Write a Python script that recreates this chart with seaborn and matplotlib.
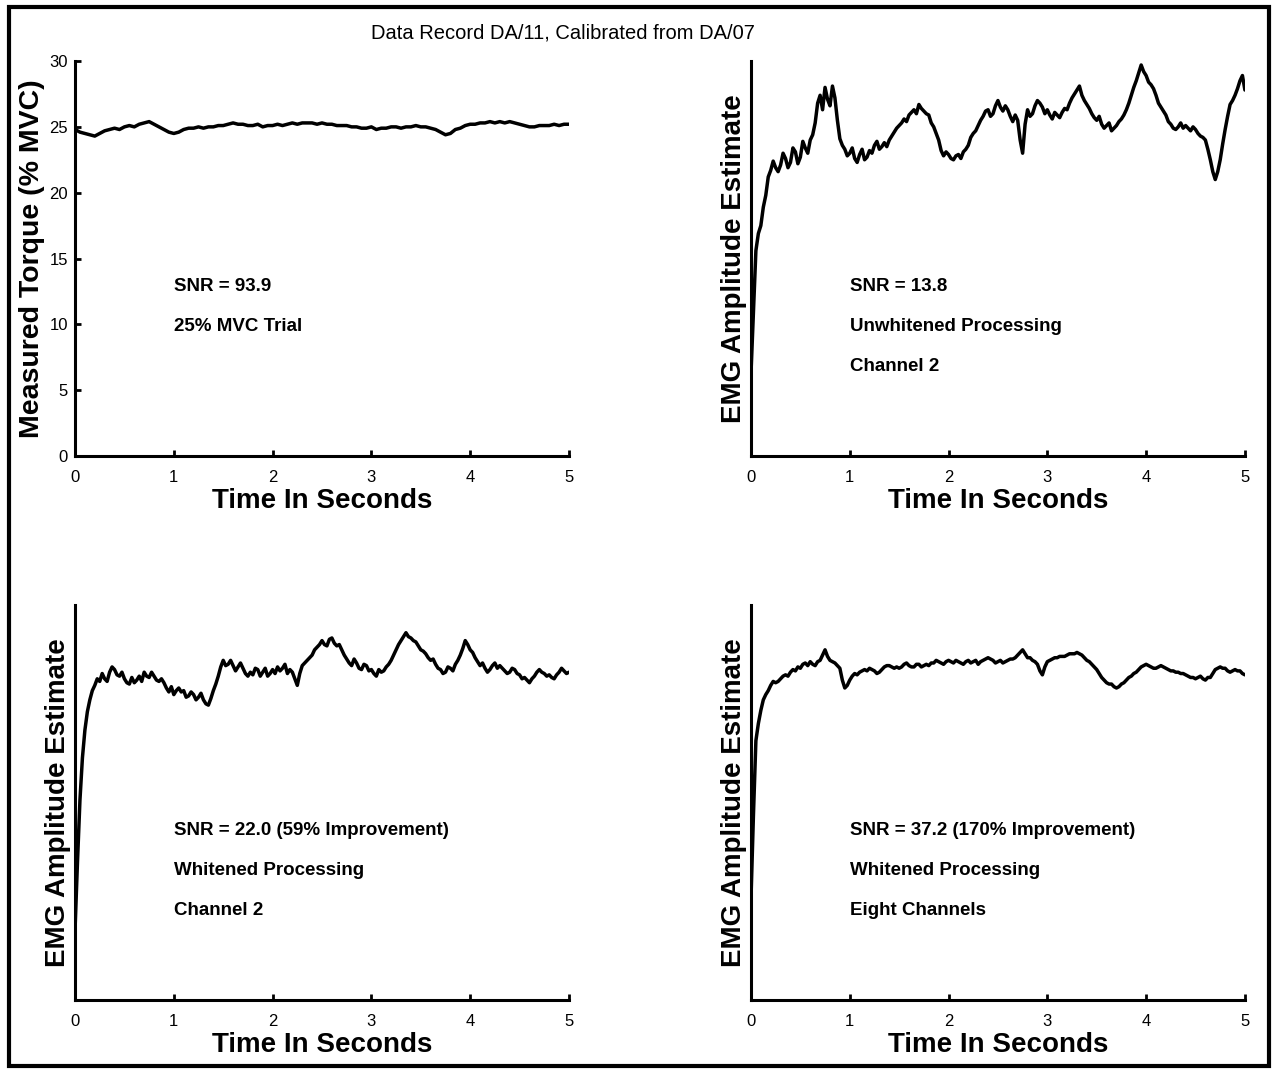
import numpy as np
import pandas as pd
import matplotlib
matplotlib.use("Agg")
import matplotlib.pyplot as plt
import seaborn as sns
from matplotlib.patches import Rectangle

# ---------------- data ----------------
torque = [24.8, 24.6, 24.5, 24.4, 24.3, 24.5, 24.7, 24.8, 24.9, 24.8,
          25.0, 25.1, 25.0, 25.2, 25.3, 25.4, 25.2, 25.0, 24.8, 24.6,
          24.5, 24.6, 24.8, 24.9, 24.9, 25.0, 24.9, 25.0, 25.0, 25.1,
          25.1, 25.2, 25.3, 25.2, 25.2, 25.1, 25.1, 25.2, 25.0, 25.1,
          25.1, 25.2, 25.1, 25.2, 25.3, 25.2, 25.3, 25.3, 25.3, 25.2,
          25.3, 25.2, 25.2, 25.1, 25.1, 25.1, 25.0, 25.0, 24.9, 24.9,
          25.0, 24.8, 24.9, 24.9, 25.0, 25.0, 24.9, 25.0, 25.0, 25.1,
          25.0, 25.0, 24.9, 24.8, 24.6, 24.4, 24.5, 24.8, 24.9, 25.1,
          25.2, 25.2, 25.3, 25.3, 25.4, 25.3, 25.4, 25.3, 25.4, 25.3,
          25.2, 25.1, 25.0, 25.0, 25.1, 25.1, 25.1, 25.2, 25.1, 25.2,
          25.2]

emg_unwhitened = [6.2, 11.0, 15.6, 16.9, 17.5, 18.9, 19.8, 21.2, 21.7, 22.4,
                  21.9, 21.6, 22.1, 23.0, 22.6, 21.9, 22.3, 23.4, 23.1, 22.2,
                  22.7, 23.9, 23.4, 23.0, 24.0, 24.4, 25.3, 26.8, 27.4, 26.3,
                  28.0, 27.1, 26.6, 28.1, 27.2, 25.5, 24.1, 23.6, 23.3, 22.8,
                  23.0, 23.4, 22.6, 22.3, 22.9, 23.3, 22.5, 22.7, 23.2, 23.0,
                  23.6, 23.9, 23.3, 23.5, 23.8, 23.5, 24.0, 24.3, 24.6, 24.9,
                  25.1, 25.3, 25.6, 25.4, 25.9, 26.1, 26.3, 26.0, 26.7, 26.4,
                  26.2, 26.0, 25.9, 25.3, 25.0, 24.5, 24.0, 23.2, 22.8, 23.1,
                  22.9, 22.6, 22.5, 22.8, 22.9, 22.6, 23.1, 23.3, 23.6, 24.2,
                  24.5, 24.7, 25.1, 25.5, 25.8, 26.2, 26.3, 25.8, 26.0, 26.6,
                  27.0, 26.5, 26.2, 26.6, 26.3, 25.8, 25.4, 25.9, 25.5, 24.0,
                  23.0, 25.2, 26.3, 25.8, 26.0, 26.6, 27.0, 26.8, 26.5, 26.0,
                  26.3, 25.9, 25.6, 26.1, 25.9, 25.7, 26.1, 26.4, 26.3, 26.8,
                  27.2, 27.5, 27.8, 28.1, 27.4, 27.0, 26.7, 26.4, 26.0, 25.7,
                  25.5, 25.8, 25.2, 24.9, 25.1, 25.3, 24.7, 24.9, 25.1, 25.4,
                  25.6, 25.9, 26.3, 26.8, 27.4, 28.0, 28.5, 29.1, 29.7, 29.2,
                  28.9, 28.4, 28.2, 27.9, 27.4, 26.8, 26.5, 26.2, 25.9, 25.4,
                  25.2, 24.9, 24.8, 25.0, 25.3, 24.9, 25.1, 24.9, 24.7, 25.0,
                  24.8, 24.5, 24.3, 24.2, 24.0, 23.3, 22.5, 21.6, 21.0, 21.6,
                  22.5, 23.7, 24.8, 25.8, 26.7, 27.0, 27.4, 27.9, 28.5, 28.9,
                  27.8]

emg_whitened_ch2 = [5.3, 10.5, 15.2, 18.4, 20.5, 21.9, 22.8, 23.5, 23.9, 24.4,
                    24.2, 24.8, 24.4, 24.2, 24.9, 25.3, 25.1, 24.7, 24.6, 24.9,
                    24.4, 24.1, 24.0, 24.5, 24.1, 24.3, 24.6, 24.2, 24.9, 24.6,
                    24.5, 24.9, 24.6, 24.3, 24.2, 24.4, 24.1, 23.7, 23.4, 23.8,
                    23.2, 23.5, 23.7, 23.4, 23.5, 23.0, 23.1, 23.4, 23.2, 22.8,
                    23.0, 23.3, 22.8, 22.5, 22.4, 22.9, 23.5, 24.0, 24.6, 25.3,
                    25.8, 25.4, 25.5, 25.8, 25.4, 25.0, 25.3, 25.6, 25.2, 24.8,
                    24.6, 24.9, 24.7, 25.2, 25.1, 24.6, 24.9, 25.2, 24.6, 24.8,
                    25.1, 24.8, 25.3, 25.0, 25.2, 25.5, 24.8, 25.1, 24.9, 24.4,
                    23.9, 24.8, 25.4, 25.6, 25.8, 26.0, 26.2, 26.6, 26.8, 27.0,
                    27.3, 27.0, 26.9, 27.4, 27.5, 27.1, 26.9, 27.0, 26.6, 26.2,
                    25.9, 25.6, 25.4, 25.9, 25.6, 25.2, 25.1, 25.5, 25.4, 25.0,
                    25.1, 24.8, 24.6, 25.1, 24.9, 25.0, 25.3, 25.5, 25.8, 26.2,
                    26.6, 27.0, 27.3, 27.6, 27.9, 27.6, 27.5, 27.3, 27.2, 26.9,
                    26.6, 26.5, 26.3, 26.0, 25.8, 25.9, 25.5, 25.2, 25.1, 24.8,
                    24.9, 25.3, 25.2, 25.0, 25.5, 25.8, 26.2, 26.7, 27.3, 27.0,
                    26.6, 26.4, 26.0, 25.7, 25.4, 25.6, 25.2, 24.9, 25.1, 25.4,
                    25.6, 25.2, 25.4, 25.2, 25.0, 24.8, 24.9, 25.2, 25.1, 24.8,
                    24.7, 24.4, 24.5, 24.3, 24.1, 24.4, 24.6, 24.9, 25.1, 24.9,
                    24.8, 24.6, 24.7, 24.5, 24.4, 24.7, 24.9, 25.2, 25.0, 24.8,
                    24.9]

emg_whitened_8ch = [7.6, 14.0, 19.7, 21.0, 22.0, 22.8, 23.2, 23.5, 23.9, 24.2,
                    24.1, 24.2, 24.4, 24.6, 24.7, 24.6, 24.9, 25.1, 25.0, 25.3,
                    25.2, 25.5, 25.6, 25.4, 25.7, 25.5, 25.4, 25.7, 25.8, 26.2,
                    26.6, 26.1, 25.8, 25.7, 25.6, 25.4, 25.2, 24.3, 23.7, 23.9,
                    24.3, 24.6, 24.8, 24.7, 24.9, 25.0, 25.1, 25.0, 25.2, 25.1,
                    25.0, 24.8, 24.9, 25.1, 25.3, 25.4, 25.4, 25.3, 25.2, 25.3,
                    25.2, 25.3, 25.5, 25.6, 25.4, 25.3, 25.3, 25.5, 25.5, 25.3,
                    25.4, 25.5, 25.4, 25.6, 25.6, 25.8, 25.7, 25.6, 25.5, 25.7,
                    25.8, 25.7, 25.6, 25.8, 25.7, 25.6, 25.5, 25.7, 25.8, 25.6,
                    25.7, 25.8, 25.5, 25.7, 25.8, 25.9, 26.0, 25.9, 25.8, 25.6,
                    25.7, 25.8, 25.6, 25.7, 25.8, 25.9, 25.9, 26.0, 26.2, 26.4,
                    26.6, 26.3, 26.0, 26.0, 25.8, 25.7, 25.5, 25.0, 24.7, 25.3,
                    25.7, 25.8, 25.9, 26.0, 26.0, 26.1, 26.1, 26.1, 26.2, 26.3,
                    26.3, 26.3, 26.4, 26.3, 26.2, 26.0, 25.8, 25.7, 25.5, 25.3,
                    25.1, 24.8, 24.5, 24.3, 24.1, 24.0, 24.0, 23.8, 23.7, 23.8,
                    24.0, 24.1, 24.3, 24.5, 24.6, 24.8, 24.9, 25.1, 25.3, 25.4,
                    25.5, 25.4, 25.3, 25.2, 25.2, 25.3, 25.4, 25.3, 25.2, 25.1,
                    25.0, 25.0, 24.9, 24.9, 24.8, 24.8, 24.7, 24.6, 24.5, 24.5,
                    24.4, 24.5, 24.6, 24.4, 24.3, 24.5, 24.5, 24.8, 25.1, 25.2,
                    25.3, 25.2, 25.2, 25.0, 24.9, 25.0, 25.1, 25.0, 25.0, 24.8,
                    24.7]

x_ticks = [0, 1, 2, 3, 4, 5]
y_ticks_torque = [0, 5, 10, 15, 20, 25, 30]

title_text = "Data Record DA/11, Calibrated from DA/07"
x_label = "Time In Seconds"
y_labels = ["Measured Torque (% MVC)", "EMG Amplitude Estimate",
            "EMG Amplitude Estimate", "EMG Amplitude Estimate"]
notes = [["SNR = 93.9", "25% MVC Trial"],
         ["SNR = 13.8", "Unwhitened Processing", "Channel 2"],
         ["SNR = 22.0 (59% Improvement)", "Whitened Processing", "Channel 2"],
         ["SNR = 37.2 (170% Improvement)", "Whitened Processing", "Eight Channels"]]
series = [torque, emg_unwhitened, emg_whitened_ch2, emg_whitened_8ch]

# ---------------- style ----------------
sns.set_style("ticks")
plt.rcParams['font.family'] = ['Liberation Sans', 'DejaVu Sans']
plt.rcParams['text.color'] = 'black'
plt.rcParams['axes.labelcolor'] = 'black'
plt.rcParams['xtick.color'] = 'black'
plt.rcParams['ytick.color'] = 'black'

fig = plt.figure(figsize=(12.78, 10.69), dpi=100)

W, H = 0.3865, 0.3695
positions = [(0.0587, 0.5734), (0.5876, 0.5734),
             (0.0587, 0.0645), (0.5876, 0.0645)]

for i, (pos, vals) in enumerate(zip(positions, series)):
    ax = fig.add_axes([pos[0], pos[1], W, H])
    df = pd.DataFrame({"t": np.linspace(0, 5, len(vals)), "v": vals})
    sns.lineplot(data=df, x="t", y="v", ax=ax, color="black",
                 linewidth=2.5, estimator=None)
    ax.set_xlim(0, 5)
    ax.set_ylim(0, 30)
    ax.set_xticks(x_ticks)
    ax.set_xticklabels([str(t) for t in x_ticks], fontsize=12)
    if i == 0:
        ax.set_yticks(y_ticks_torque)
        ax.set_yticklabels([str(t) for t in y_ticks_torque], fontsize=12)
        ax.set_ylabel(y_labels[i], fontsize=20.5, fontweight="bold", labelpad=3)
    else:
        ax.set_yticks([])
        ax.set_ylabel(y_labels[i], fontsize=20, fontweight="bold", labelpad=3)
    ax.set_xlabel(x_label, fontsize=20, fontweight="bold", labelpad=2)
    sns.despine(ax=ax)
    for s in ("left", "bottom"):
        ax.spines[s].set_linewidth(2.2)
        ax.spines[s].set_color("black")
    ax.tick_params(axis="x", direction="in", length=4, width=2, colors="black", pad=10)
    ax.tick_params(axis="y", direction="in", length=4, width=2, colors="black", pad=5)
    ax.patch.set_alpha(0)
    for k, txt in enumerate(notes[i]):
        ax.text(1.0, 12.9 - 3.05 * k, txt, fontsize=13.5, fontweight="bold",
                va="center", ha="left", color="black")

fig.text(0.4405, 0.969, title_text, fontsize=14.5, ha="center",
         va="center", color="black")

fig.patches.append(Rectangle((0.007, 0.003), 0.986, 0.99, transform=fig.transFigure,
                             fill=False, edgecolor="black", linewidth=3))

fig.savefig("out.png", dpi=100)
